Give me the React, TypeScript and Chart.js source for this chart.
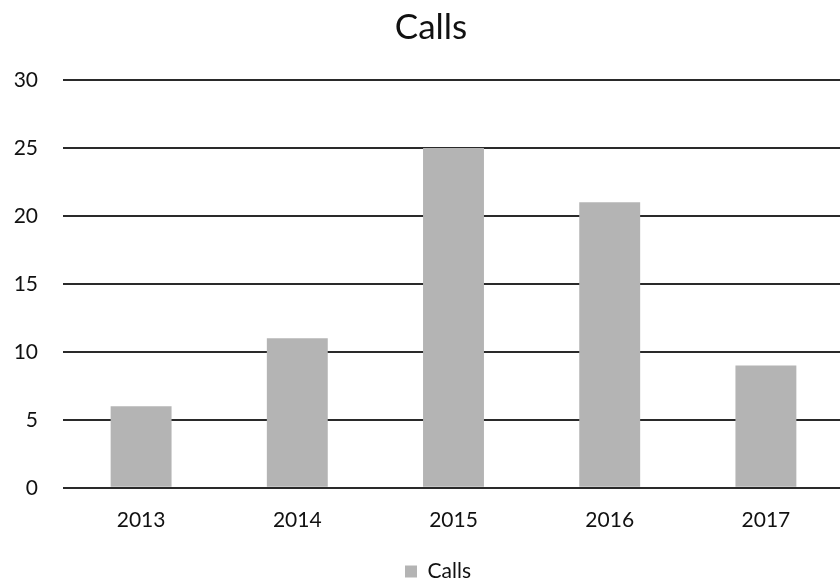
import React, { useEffect, useRef } from "react";
import { Chart, registerables } from "chart.js";

Chart.register(...registerables);

const categories = ["2013", "2014", "2015", "2016", "2017"];
const callsValues = [6, 11, 25, 21, 9];
const seriesName = "Calls";
const yTicks = [0, 5, 10, 15, 20, 25, 30];

const shiftBoxes = {
  id: "shiftBoxes",
  afterLayout(chart: any) {
    if (chart.legend) {
      chart.legend.left += 16;
      chart.legend.right += 16;
    }
    if (chart.titleBlock) {
      chart.titleBlock.left += 9;
      chart.titleBlock.right += 9;
    }
  },
};

export default function App() {
  const ref = useRef<HTMLCanvasElement | null>(null);

  useEffect(() => {
    if (!ref.current) return;
    const chart = new Chart(ref.current, {
      type: "bar",
      data: {
        labels: categories,
        datasets: [
          {
            label: seriesName,
            data: callsValues,
            backgroundColor: "#b4b4b4",
            borderWidth: 0,
            categoryPercentage: 1,
            barPercentage: 0.39,
          },
        ],
      },
      plugins: [shiftBoxes],
      options: {
        responsive: false,
        animation: false,
        layout: { padding: { left: 0, right: 0, top: 0, bottom: -8 } },
        plugins: {
          title: {
            display: true,
            text: "Calls",
            color: "#111",
            font: { family: "Lato", size: 35, weight: "normal" },
            padding: { top: 7, bottom: 31 },
          },
          legend: {
            display: true,
            position: "bottom",
            labels: {
              color: "#111",
              font: { family: "Lato", size: 21 },
              boxWidth: 12,
              boxHeight: 12,
              padding: 4,
            },
          },
          tooltip: { enabled: false },
        },
        scales: {
          x: {
            grid: { display: false, drawTicks: false },
            border: { display: false },
            afterFit: (scale: any) => {
              scale.height += 4;
            },
            ticks: {
              color: "#111",
              font: { family: "Lato", size: 21 },
              padding: 20,
            },
          },
          y: {
            min: 0,
            max: 30,
            afterBuildTicks: (scale: any) => {
              scale.ticks = yTicks.map((v) => ({ value: v }));
            },
            afterFit: (scale: any) => {
              scale.width = 63;
            },
            grid: {
              color: "#2a2a2a",
              lineWidth: 2,
              drawTicks: false,
            },
            border: { display: false },
            ticks: {
              color: "#111",
              font: { family: "Lato", size: 21 },
              padding: 25,
            },
          },
        },
      },
    });
    return () => chart.destroy();
  }, []);

  return (
    <div
      style={{
        position: "fixed",
        left: 0,
        top: 0,
        width: 840,
        height: 584,
        overflow: "hidden",
        background: "#fff",
      }}
    >
      <canvas ref={ref} width={844} height={584} style={{ width: 844, height: 584 }} />
    </div>
  );
}
